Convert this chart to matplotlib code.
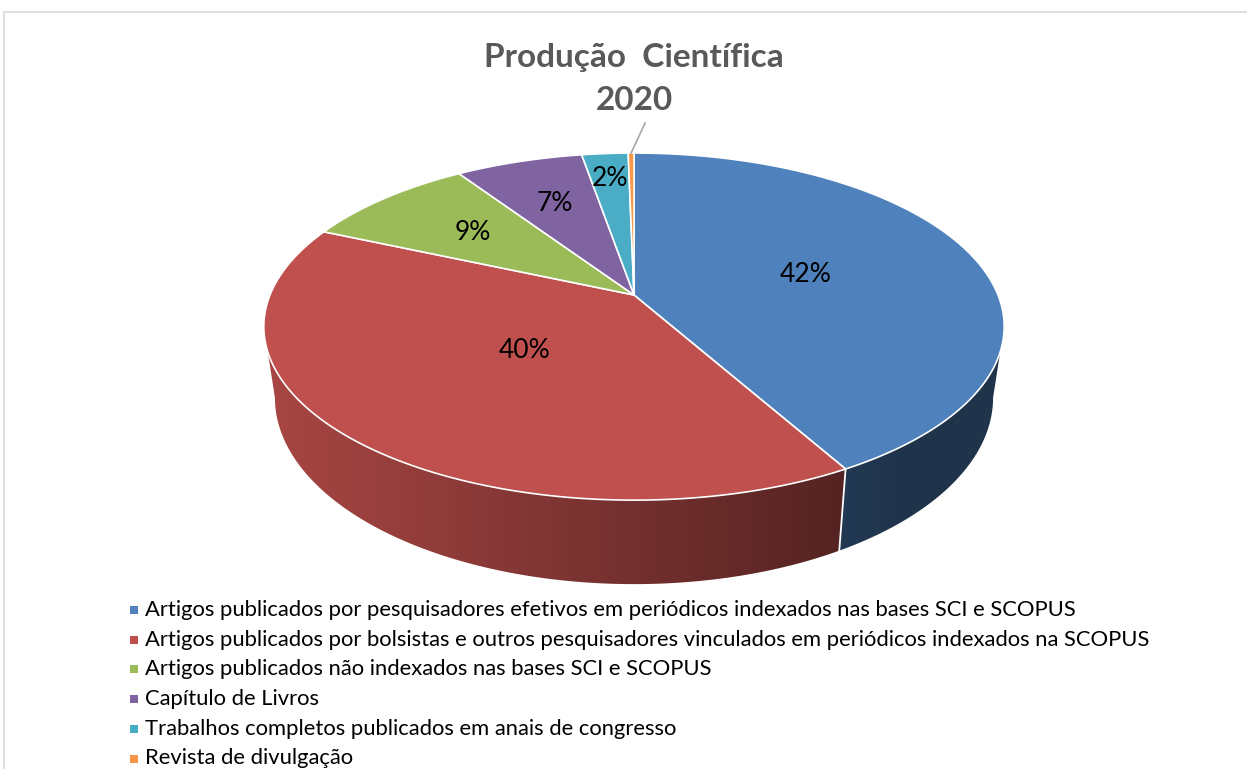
import numpy as np
import matplotlib
matplotlib.use("Agg")
import matplotlib.pyplot as plt
from matplotlib.patches import Polygon, Rectangle
from matplotlib.colors import to_rgb

# ---------------- data ----------------
categories = [
    "Artigos publicados por pesquisadores efetivos em periódicos indexados nas bases SCI e SCOPUS",
    "Artigos publicados por bolsistas e outros pesquisadores vinculados em periódicos indexados na SCOPUS",
    "Artigos publicados não indexados nas bases SCI e SCOPUS",
    "Capítulo de Livros",
    "Trabalhos completos publicados em anais de congresso",
    "Revista de divulgação",
]
values = [139, 132, 30, 22, 8, 1]
title_lines = ["Produção  Científica", "2020"]

# ---------------- style ----------------
colors = ["#4f81bd", "#c0504d", "#9bbb59", "#8064a2", "#4bacc6", "#f79646"]
label_radius = [0.50, 0.42, 0.62, 0.65, 0.80, 0.0]
FONT = "Lato"

W, H = 1247, 769
fig = plt.figure(figsize=(W / 100, H / 100), dpi=100)
ax = fig.add_axes([0, 0, 1, 1])
ax.set_xlim(0, W)
ax.set_ylim(H, 0)
ax.axis("off")

# projection parameters (perspective 3D pie)
cx, cy = 634, 295
A, B = 364.0, 167.8
k = 0.182
Hdepth = 68.7
shrink = 0.03


def proj(theta, r=1.0, z=0.0):
    u = r * np.sin(theta)
    v = r * np.cos(theta)
    w = 1 + k * v
    X = cx + A * u * (1 - shrink * z) / w
    Y = cy - (B * v - Hdepth * z) / w
    return X, Y


vals = np.array(values, dtype=float)
frac = vals / vals.sum()
bounds = np.concatenate([[0], np.cumsum(frac)]) * 2 * np.pi

# visible (front-facing) wall range
t_front0 = np.arccos(-k)
t_front1 = 2 * np.pi - t_front0

xs = np.arange(W) + 0.5
fac = np.clip(0.6 - 0.28 * (xs - cx) / 370.0, 0.40, 0.90)

for i, c in enumerate(colors):
    t0 = max(bounds[i], t_front0)
    t1 = min(bounds[i + 1], t_front1)
    if t1 <= t0:
        continue
    ts = np.linspace(t0, t1, max(3, int((t1 - t0) / np.radians(0.3)) + 2))
    top = [proj(t, 1, 0) for t in ts]
    bot = [proj(t, 1, 1) for t in ts[::-1]]
    poly = Polygon(top + bot, closed=True, facecolor="none", edgecolor="none")
    ax.add_patch(poly)
    rgb = np.array(to_rgb(c))
    img = np.tile((fac[:, None] * rgb[None, :])[None, :, :], (2, 1, 1))
    im = ax.imshow(img, extent=[0, W, H, 0], aspect="auto",
                   interpolation="bilinear", zorder=2)
    im.set_clip_path(poly)

# white separators on walls at slice boundaries in front
for t in bounds[1:-1]:
    if t_front0 < t < t_front1:
        x0, y0 = proj(t, 1, 0)
        x1, y1 = proj(t, 1, 1)
        ax.plot([x0, x1], [y0, y1], color="white", lw=1.3, zorder=3)

# top faces
for i, c in enumerate(colors):
    t0, t1 = bounds[i], bounds[i + 1]
    ts = np.linspace(t0, t1, max(3, int((t1 - t0) / np.radians(0.5)) + 2))
    pts = [proj(0, 0, 0)] + [proj(t, 1, 0) for t in ts]
    ax.add_patch(Polygon(pts, closed=True, facecolor=c, edgecolor="white",
                         lw=1.2, zorder=4, joinstyle="round"))

# labels
for i in range(len(values)):
    pct = int(round(frac[i] * 100))
    mid = (bounds[i] + bounds[i + 1]) / 2
    if label_radius[i] > 0:
        x, y = proj(mid, label_radius[i], 0)
        ax.text(x, y, f"{pct}%", ha="center", va="center", fontsize=19,
                family=FONT, color="black", zorder=6)
    else:
        x0, y0 = proj(mid, 1, 0)
        ax.plot([x0, x0 + 14], [y0, y0 - 30], color="#a6a6a6", lw=1.2, zorder=5)

# title
ax.text(634, 57, title_lines[0], ha="center", va="center", fontsize=24,
        family=FONT, fontweight="bold", color="#595959", zorder=7)
ax.text(634, 101, title_lines[1], ha="center", va="center", fontsize=24,
        family=FONT, fontweight="bold", color="#595959", zorder=7)

# legend
ly0, ldy = 610, 29.7
for i, (lab, c) in enumerate(zip(categories, colors)):
    y = ly0 + i * ldy
    ax.add_patch(Rectangle((129.5, y - 4), 8, 8, facecolor=c, edgecolor="none", zorder=6))
    ax.text(145, y, lab, ha="left", va="center", fontsize=15.8, family=FONT,
            color="black", zorder=6)

# chart border
ax.plot([4, W], [12, 12], color="#d9d9d9", lw=1.2, zorder=1)
ax.plot([4, 4], [12, H], color="#d9d9d9", lw=1.2, zorder=1)

fig.savefig("out.png", dpi=100)
